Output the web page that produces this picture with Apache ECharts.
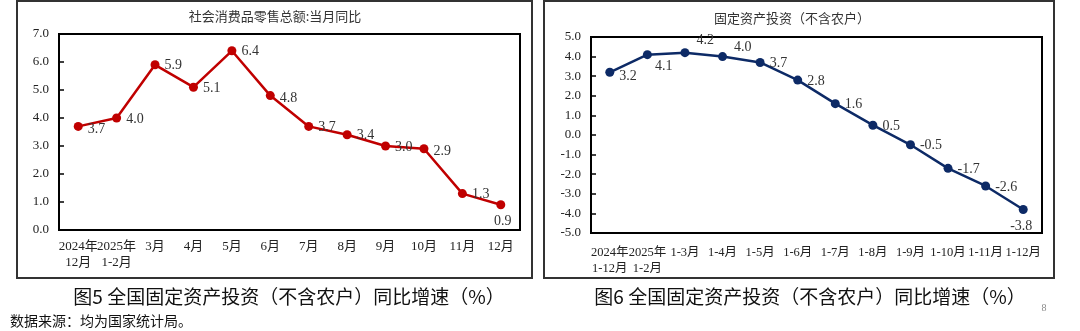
<!DOCTYPE html>
<html>
<head>
<meta charset="utf-8">
<script src="https://cdn.jsdelivr.net/npm/echarts@6/dist/echarts.min.js"></script>
<style>
html,body{margin:0;padding:0;background:#fff;}
#c{width:1080px;height:331px;}
</style>
</head>
<body>
<div id="c"></div>
<script>
// ---- data ----
const retailCategories = ['2024年\n12月','2025年\n1-2月','3月','4月','5月','6月','7月','8月','9月','10月','11月','12月'];
const retailValues = [3.7, 4.0, 5.9, 5.1, 6.4, 4.8, 3.7, 3.4, 3.0, 2.9, 1.3, 0.9];
const investCategories = ['2024年\n1-12月','2025年\n1-2月','1-3月','1-4月','1-5月','1-6月','1-7月','1-8月','1-9月','1-10月','1-11月','1-12月'];
const investValues = [3.2, 4.1, 4.2, 4.0, 3.7, 2.8, 1.6, 0.5, -0.5, -1.7, -2.6, -3.8];
const retailTitle = '社会消费品零售总额:当月同比';
const investTitle = '固定资产投资（不含农户）';
const caption5 = '图5 全国固定资产投资（不含农户）同比增速（%）';
const caption6 = '图6 全国固定资产投资（不含农户）同比增速（%）';
const sourceNote = '数据来源：均为国家统计局。';
const pageNumber = '8';

// ---- label styling (placement only) ----
const retailLabelPos = ['right','right','right','right','right','right','right','right','right','right','right','bottom'];
const retailLabelOffset = [[0,3],[0,1],[0,1],[0,1],[0,1],[0,3],[0,1],[0,1],[0,1],[0,3],[0,1],[2,0]];
const investLabelPos = ['right','right','right','right','right','right','right','right','right','right','right','bottom'];
const investLabelOffset = [[0,4],[-2,12],[2,-12],[2,-9],[0,1],[0,1],[0,1],[0,1],[0,1],[0,1],[0,1],[-2,0]];

const SERIF = "'Times New Roman','Liberation Serif','Noto Sans CJK SC',serif";
const CJK = "'Noto Sans CJK SC','Liberation Serif',sans-serif";

function buildData(vals, pos, off){
  return vals.map((v,i)=>({value:v, label:{position:pos[i], offset:off[i]}}));
}

const chart = echarts.init(document.getElementById('c'), null, {renderer:'canvas'});

const axisLabelStyle = {fontFamily: SERIF, fontSize: 13, color:'#222'};

const option = {
  animation:false,
  backgroundColor:'#fff',
  grid:[
    {left:59, top:34, width:461, height:196, show:true, borderColor:'#000', borderWidth:2, backgroundColor:'transparent', containLabel:false},
    {left:591, top:37, width:451, height:196, show:true, borderColor:'#000', borderWidth:2, backgroundColor:'transparent', containLabel:false}
  ],
  xAxis:[
    {type:'category', gridIndex:0, data:retailCategories, boundaryGap:true,
     axisLine:{show:true, lineStyle:{color:'#000', width:2}}, axisTick:{show:false},
     axisLabel:Object.assign({interval:0, margin:9, lineHeight:16}, axisLabelStyle), splitLine:{show:false}},
    {type:'category', gridIndex:1, data:investCategories, boundaryGap:true, position:'bottom',
     axisLine:{show:true, onZero:false, lineStyle:{color:'#000', width:2}}, axisTick:{show:false},
     axisLabel:Object.assign({interval:0, margin:12, lineHeight:16}, axisLabelStyle, {fontSize:12.5}), splitLine:{show:false}}
  ],
  yAxis:[
    {type:'value', gridIndex:0, min:0, max:7, interval:1,
     axisLine:{show:true, lineStyle:{color:'#000', width:2}},
     axisTick:{show:true, inside:true, length:5, lineStyle:{color:'#000', width:1.5}},
     axisLabel:Object.assign({margin:10, formatter:v=>v.toFixed(1)}, axisLabelStyle), splitLine:{show:false}},
    {type:'value', gridIndex:1, min:-5, max:5, interval:1,
     axisLine:{show:true, onZero:false, lineStyle:{color:'#000', width:2}},
     axisTick:{show:true, inside:true, length:5, lineStyle:{color:'#000', width:1.5}},
     axisLabel:Object.assign({margin:10, formatter:v=>v.toFixed(1)}, axisLabelStyle), splitLine:{show:false}}
  ],
  series:[
    {type:'line', xAxisIndex:0, yAxisIndex:0, data:buildData(retailValues, retailLabelPos, retailLabelOffset),
     symbol:'circle', symbolSize:9, lineStyle:{color:'#C00000', width:2.5}, itemStyle:{color:'#C00000'},
     label:{show:true, distance:5, fontFamily:SERIF, fontSize:14, color:'#333', formatter:p=>p.value.toFixed(1)}},
    {type:'line', xAxisIndex:1, yAxisIndex:1, data:buildData(investValues, investLabelPos, investLabelOffset),
     symbol:'circle', symbolSize:9, lineStyle:{color:'#0D2A66', width:2.5}, itemStyle:{color:'#0D2A66'},
     label:{show:true, distance:5, fontFamily:SERIF, fontSize:14, color:'#333', formatter:p=>p.value.toFixed(1)}}
  ],
  graphic:[
    {type:'rect', shape:{x:17, y:1, width:515, height:277}, style:{fill:'none', stroke:'#333', lineWidth:2}, z:-1},
    {type:'rect', shape:{x:544, y:1, width:510, height:277}, style:{fill:'none', stroke:'#333', lineWidth:2}, z:-1},
    {type:'text', x:275, y:16, style:{text:retailTitle, font:"13px "+CJK, fill:'#333', textAlign:'center', textVerticalAlign:'middle'}},
    {type:'text', x:792, y:18, style:{text:investTitle, font:"13px "+CJK, fill:'#333', textAlign:'center', textVerticalAlign:'middle'}},
    {type:'text', x:289, y:297, style:{text:caption5, font:"19px "+CJK, fill:'#111', textAlign:'center', textVerticalAlign:'middle'}},
    {type:'text', x:810, y:297, style:{text:caption6, font:"19px "+CJK, fill:'#111', textAlign:'center', textVerticalAlign:'middle'}},
    {type:'text', x:10, y:321, style:{text:sourceNote, font:"14px "+CJK, fill:'#111', textAlign:'left', textVerticalAlign:'middle'}},
    {type:'text', x:1044, y:308, style:{text:pageNumber, font:"10px "+SERIF, fill:'#888', textAlign:'center', textVerticalAlign:'middle'}}
  ]
};
chart.setOption(option);
</script>
</body>
</html>
